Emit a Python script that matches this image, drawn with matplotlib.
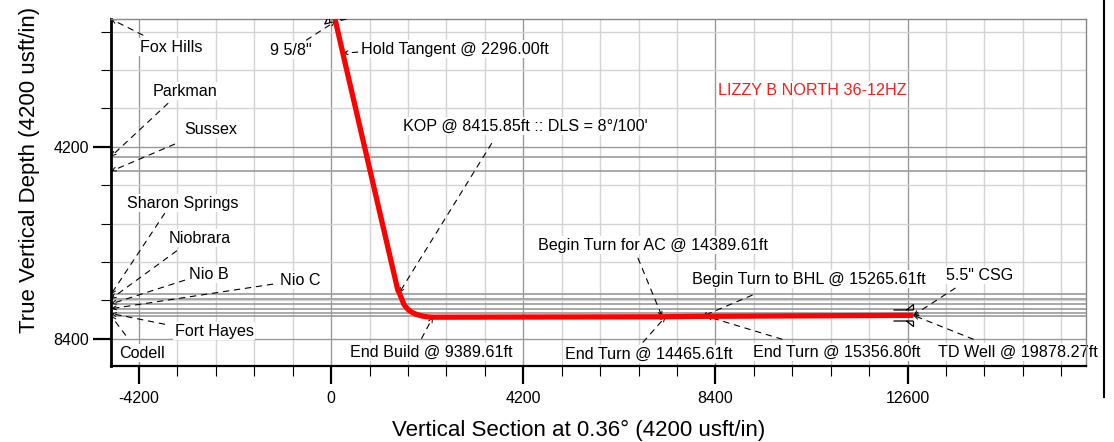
import matplotlib
matplotlib.use('Agg')
import matplotlib.pyplot as plt
from matplotlib.path import Path
from matplotlib.markers import MarkerStyle
from matplotlib.transforms import Affine2D
from matplotlib.lines import Line2D
from matplotlib.ticker import MultipleLocator

plt.rcParams['font.family'] = ['Liberation Sans', 'DejaVu Sans']

# ---------------- data ----------------
# well path (Vertical Section, TVD)
path_vs = [42, 280, 1459, 1500, 1540, 1590, 1645, 1700, 1765, 1831, 1920, 2006, 2110, 2225,
           7236, 8112, 12725]
path_tvd = [1205, 2250, 7340, 7420, 7520, 7646, 7720, 7778, 7822, 7855, 7886, 7909, 7924, 7931,
            7922, 7912, 7890]

# formation tops
form_names = ["Fox Hills", "Parkman", "Sussex", "Sharon Springs", "Niobrara",
              "Nio B", "Nio C", "Fort Hayes", "Codell"]
form_tvd = [1402, 4412, 4735, 7430, 7530, 7640, 7745, 7850, 7900]

# well events (annotation targets on the path)
event_labels = ['9 5/8"', "Hold Tangent @ 2296.00ft", "KOP @ 8415.85ft :: DLS = 8°/100'",
                "End Build @ 9389.61ft", "Begin Turn for AC @ 14389.61ft",
                "End Turn @ 14465.61ft", "Begin Turn to BHL @ 15265.61ft",
                "End Turn @ 15356.80ft", '5.5" CSG', "TD Well @ 19878.27ft"]
event_vs = [95, 256, 1489, 2225, 7236, 7312, 8112, 8203, 12725, 12725]
event_tvd = [1450, 2147, 7400, 7931, 7922, 7921, 7912, 7911, 7890, 7890]

# casing shoes
casing_vs = [95, 12725]
casing_tvd = [1450, 7890]
casing_rot = [-77, 0]

well_name = "LIZZY B NORTH 36-12HZ"
x_ticks = [-4200, 0, 4200, 8400, 12600]
y_ticks = [4200, 8400]

# ---------------- layout ----------------
form_text_pos = [(-4185, 2016), (-3900, 2980), (-3200, 3812), (-4470, 5434), (-3550, 6200),
                 (-3113, 6989), (-1122, 7121), (-3419, 8238), (-4622, 8720)]
form_lead_start = [(-4112, 1753), (-3566, 3249), (-3419, 4141), (-3638, 5659), (-3375, 6479),
                   (-3200, 7121), (-1275, 7208), (-3638, 8085), (-4491, 8326)]
event_text_pos = [(-1341, 2081), (650, 2059), (1568, 3747), (409, 8699), (4520, 6354),
                  (5111, 8742), (7890, 7099), (9224, 8699), (13443, 7011), (13272, 8699)]
event_lead_start = [(-538, 1862), (584, 2125), (3509, 4126), (1978, 8398), (6709, 6639),
                    (6818, 8479), (9205, 7449), (9858, 8414), (13640, 7296), (14037, 8414)]
event_shrink = [5, 0, 0, 0, 0, 0, 0, 0, 0, 0]

XMIN, XMAX = -4810, 16500
YTOP, YBOT = 1400, 9000

fig = plt.figure(figsize=(11.14, 4.42), dpi=100)
ax = fig.add_axes([111/1114, 1 - 366/442, 975/1114, 347/442])
ax.set_xlim(XMIN, XMAX)
ax.set_ylim(YBOT, YTOP)

ax.xaxis.set_major_locator(MultipleLocator(4200))
ax.xaxis.set_minor_locator(MultipleLocator(840))
ax.yaxis.set_major_locator(MultipleLocator(4200))
ax.yaxis.set_minor_locator(MultipleLocator(840))
ax.set_xticks(x_ticks)
ax.set_yticks(y_ticks)
ax.set_xticklabels([str(v) for v in x_ticks])
ax.set_yticklabels([str(v) for v in y_ticks])

ax.grid(which='minor', color='#d4d4d4', lw=1.0, zorder=0)
ax.grid(which='major', color='#999999', lw=1.0, zorder=0)
ax.set_axisbelow(True)

ax.tick_params(which='major', direction='out', length=13, width=1.6, labelsize=11.5,
               colors='black')
ax.tick_params(axis='x', which='major', pad=5)
ax.tick_params(axis='y', which='major', pad=3)
ax.tick_params(which='minor', direction='out', length=7.5, width=0.8)

for s in ['top', 'right']:
    ax.spines[s].set_color('#888888')
    ax.spines[s].set_linewidth(1.0)
ax.spines['left'].set_linewidth(2.0)
ax.spines['bottom'].set_linewidth(1.6)
for s in ax.spines.values():
    s.set_zorder(3)

# formation lines
for t in form_tvd:
    ax.axhline(t, color='#9a9a9a', lw=1.2, zorder=1.5)

dash = (0, (5, 5))


def leader(start, end, shrink=0):
    ax.annotate('', xy=end, xytext=start,
                arrowprops=dict(arrowstyle='-', linestyle=dash, lw=0.8, color='black',
                                shrinkA=0, shrinkB=shrink), zorder=2)
    # small open arrow head at target
    dx = start[0] - end[0]
    dy = start[1] - end[1]
    ax.annotate('', xy=end, xytext=(end[0] + dx * 0.02, end[1] + dy * 0.02),
                arrowprops=dict(arrowstyle='->,head_length=0.3,head_width=0.14', lw=0.7,
                                color='black', shrinkA=0, shrinkB=shrink), zorder=2)


tb = dict(facecolor='white', edgecolor='none', pad=1.0)
FS = 11.6

for name, t, tp, ls in zip(form_names, form_tvd, form_text_pos, form_lead_start):
    leader(ls, (XMIN, t))
    ax.text(tp[0], tp[1], name, ha='left', va='center', fontsize=FS, bbox=tb, zorder=2.2)

for lab, vs, tvd, tp, ls, sh in zip(event_labels, event_vs, event_tvd, event_text_pos,
                                    event_lead_start, event_shrink):
    leader(ls, (vs, tvd), sh)
    ax.text(tp[0], tp[1], lab, ha='left', va='center', fontsize=FS, bbox=tb, zorder=2.2)

ax.text(8460, 2958, well_name, ha='left', va='center', fontsize=FS, color='#ff1a1a',
        bbox=tb, zorder=2.2)

# well path
ax.plot(path_vs, path_tvd, color='#ff0000', lw=3.8, solid_capstyle='butt',
        solid_joinstyle='round', zorder=5)

# casing shoe symbols
shoe_verts = [(-20, 5.5), (0, 5.5), (-7, 5.5), (0, 11), (0, 5.5),
              (-20, -5.5), (0, -5.5), (-7, -5.5), (0, -11), (0, -5.5)]
shoe_codes = [Path.MOVETO, Path.LINETO, Path.MOVETO, Path.LINETO, Path.LINETO,
              Path.MOVETO, Path.LINETO, Path.MOVETO, Path.LINETO, Path.LINETO]
shoe_path = Path(shoe_verts, shoe_codes)
for vs, tvd, rot in zip(casing_vs, casing_tvd, casing_rot):
    ms = MarkerStyle(shoe_path, transform=Affine2D().rotate_deg(rot))
    ax.plot([vs], [tvd], linestyle='none', marker=ms, markersize=28.8,
            markerfacecolor='none', markeredgecolor='black', markeredgewidth=0.9,
            zorder=6)

# axis titles
fig.text(578.5/1114, 1 - 430/442, "Vertical Section at 0.36° (4200 usft/in)",
         ha='center', va='center', fontsize=16)
fig.text(30/1114, 1 - 170/442, "True Vertical Depth (4200 usft/in)",
         ha='center', va='center', rotation=90, fontsize=16)

# outer frame edge
fig.add_artist(Line2D([1104/1114, 1104/1114], [1 - 397/442, 1.0],
                      transform=fig.transFigure, color='black', lw=1.5))

fig.savefig('out.png', dpi=100)
